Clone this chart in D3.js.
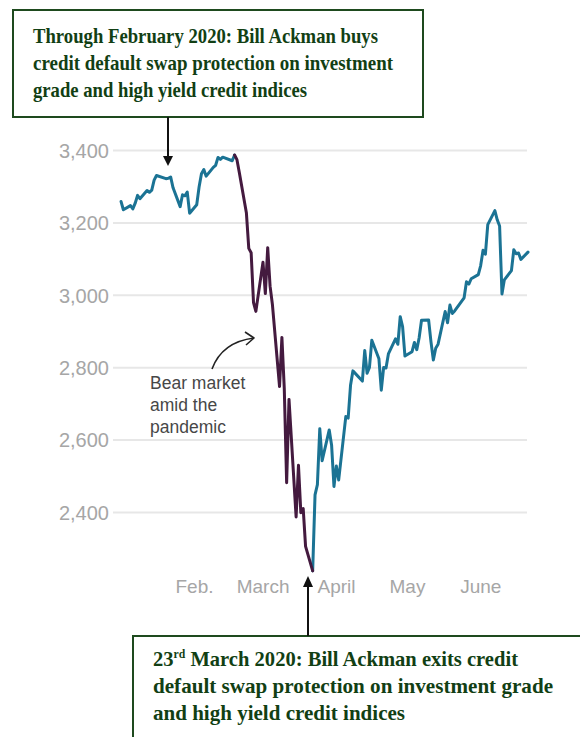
<!DOCTYPE html>
<html>
<head>
<meta charset="utf-8">
<script src="https://cdn.jsdelivr.net/npm/d3@7"></script>
<style>
  html, body { margin: 0; padding: 0; background: #fff; }
  svg { display: block; }
</style>
</head>
<body>
<svg id="chart" width="580" height="737"></svg>
<script>
// S&P 500 daily closes, January – June 2020
const tradingDays = [
  "2020-01-02","2020-01-03","2020-01-06","2020-01-07","2020-01-08","2020-01-09","2020-01-10",
  "2020-01-13","2020-01-14","2020-01-15","2020-01-16","2020-01-17","2020-01-21","2020-01-22",
  "2020-01-23","2020-01-24","2020-01-27","2020-01-28","2020-01-29","2020-01-30","2020-01-31",
  "2020-02-03","2020-02-04","2020-02-05","2020-02-06","2020-02-07","2020-02-10","2020-02-11",
  "2020-02-12","2020-02-13","2020-02-14","2020-02-18","2020-02-19","2020-02-20","2020-02-21",
  "2020-02-24","2020-02-25","2020-02-26","2020-02-27","2020-02-28",
  "2020-03-02","2020-03-03","2020-03-04","2020-03-05","2020-03-06","2020-03-09","2020-03-10",
  "2020-03-11","2020-03-12","2020-03-13","2020-03-16","2020-03-17","2020-03-18","2020-03-19",
  "2020-03-20","2020-03-23","2020-03-24","2020-03-25","2020-03-26","2020-03-27","2020-03-30",
  "2020-03-31",
  "2020-04-01","2020-04-02","2020-04-03","2020-04-06","2020-04-07","2020-04-08","2020-04-09",
  "2020-04-13","2020-04-14","2020-04-15","2020-04-16","2020-04-17","2020-04-20","2020-04-21",
  "2020-04-22","2020-04-23","2020-04-24","2020-04-27","2020-04-28","2020-04-29","2020-04-30",
  "2020-05-01","2020-05-04","2020-05-05","2020-05-06","2020-05-07","2020-05-08","2020-05-11",
  "2020-05-12","2020-05-13","2020-05-14","2020-05-15","2020-05-18","2020-05-19","2020-05-20",
  "2020-05-21","2020-05-22","2020-05-26","2020-05-27","2020-05-28","2020-05-29",
  "2020-06-01","2020-06-02","2020-06-03","2020-06-04","2020-06-05","2020-06-08","2020-06-09",
  "2020-06-10","2020-06-11","2020-06-12","2020-06-15","2020-06-16","2020-06-17","2020-06-18",
  "2020-06-19","2020-06-22"
];

const closes = [
  3257.85,3234.85,3246.28,3237.18,3253.05,3274.70,3265.35,
  3288.13,3283.15,3289.29,3316.81,3329.62,3320.79,3321.75,
  3325.54,3295.47,3243.63,3276.24,3273.40,3283.66,3225.52,
  3248.92,3297.59,3334.69,3345.78,3327.71,3352.09,3357.75,
  3379.45,3373.94,3380.16,3370.29,3386.15,3373.23,3337.75,
  3225.89,3128.21,3116.39,2978.76,2954.22,
  3090.23,3003.37,3130.12,3023.94,2972.37,2746.56,2882.23,
  2741.38,2480.64,2711.02,2386.13,2529.19,2398.10,2409.39,
  2304.92,2237.40,2447.33,2475.56,2630.07,2541.47,2626.65,
  2584.59,
  2470.50,2526.90,2488.65,2663.68,2659.41,2749.98,2789.82,
  2761.63,2846.06,2783.36,2799.55,2874.56,2823.16,2736.56,
  2799.31,2797.80,2836.74,2878.48,2863.39,2939.51,2912.43,
  2830.71,2842.74,2868.44,2848.42,2881.19,2929.80,2930.32,
  2870.12,2820.00,2852.50,2863.70,2953.91,2922.94,2971.61,
  2948.51,2955.45,2991.77,3036.13,3029.73,3044.31,
  3055.73,3080.82,3122.87,3112.35,3193.93,3232.39,3207.18,
  3190.14,3002.10,3041.31,3066.59,3124.74,3113.49,3115.34,
  3097.74,3117.86
];

// Bear-market stretch, drawn in a darker colour
const bearStart = "2020-02-19";
const bearEnd = "2020-03-23";

const yTickValues = [2400, 2600, 2800, 3000, 3200, 3400];
const monthTickDates = ["2020-02-01","2020-03-01","2020-04-01","2020-05-01","2020-06-01"];
const monthTickLabels = ["Feb.","March","April","May","June"];

const topNoteLines = [
  "Through February 2020: Bill Ackman buys",
  "credit default swap protection on investment",
  "grade and high yield credit indices"
];
const bottomNoteLines = [
  ["23", "rd", " March 2020: Bill Ackman exits credit"],
  "default swap protection on investment grade",
  "and high yield credit indices"
];
const bearLabelLines = ["Bear market", "amid the", "pandemic"];

const parse = d3.timeParse("%Y-%m-%d");
const series = tradingDays.map((d, i) => ({ date: parse(d), value: closes[i] }));

const svg = d3.select("#chart");
const teal = "#1b7394";
const plum = "#441a3f";
const green = "#123f14";
const greenBorder = "#1e4a1e";

const plot = { left: 113, right: 527 };

const x = d3.scaleTime()
  .domain([parse("2020-01-02"), parse("2020-06-22")])
  .range([121, 528]);

const y = d3.scaleLinear()
  .domain([2400, 3400])
  .range([512, 150]);

// Horizontal gridlines with value labels
const yAxis = d3.axisLeft(y)
  .tickValues(yTickValues)
  .tickFormat(d3.format(","))
  .tickSizeInner(-(plot.right - plot.left))
  .tickSizeOuter(0)
  .tickPadding(4);

const gy = svg.append("g")
  .attr("transform", `translate(${plot.left},0)`)
  .call(yAxis);
gy.select(".domain").remove();
gy.selectAll(".tick line").attr("stroke", "#e7e7e7").attr("stroke-width", 2);
gy.selectAll(".tick text")
  .attr("dy", "0.36em")
  .attr("fill", "#a6a6a6")
  .style("font-family", "'Liberation Sans', Arial, sans-serif")
  .style("font-size", "20px");

// Month labels
const xAxis = d3.axisBottom(x)
  .tickValues(monthTickDates.map(parse))
  .tickFormat((d, i) => monthTickLabels[i])
  .tickSize(0)
  .tickPadding(0);

const gx = svg.append("g")
  .attr("transform", "translate(2,579)")
  .call(xAxis);
gx.select(".domain").remove();
gx.selectAll(".tick text")
  .attr("dy", "0.71em")
  .attr("fill", "#a6a6a6")
  .style("font-family", "'Liberation Sans', Arial, sans-serif")
  .style("font-size", "19px");

// Price line, split into calm and bear-market stretches
const line = d3.line()
  .x(d => x(d.date))
  .y(d => y(d.value))
  .curve(d3.curveLinear);

const tBearStart = parse(bearStart), tBearEnd = parse(bearEnd);
const before = series.filter(d => d.date <= tBearStart);
const bear = series.filter(d => d.date >= tBearStart && d.date <= tBearEnd);
const after = series.filter(d => d.date >= tBearEnd);

[[before, teal], [after, teal], [bear, plum]].forEach(([seg, col]) => {
  svg.append("path")
    .datum(seg)
    .attr("d", line)
    .attr("fill", "none")
    .attr("stroke", col)
    .attr("stroke-width", 3)
    .attr("stroke-linejoin", "round")
    .attr("stroke-linecap", "round");
});

// "Bear market amid the pandemic" note with curved pointer
const bearText = svg.append("text")
  .attr("fill", "#474747")
  .style("font-family", "'Liberation Sans', Arial, sans-serif")
  .style("font-size", "17.5px");
bearLabelLines.forEach((t, i) => {
  bearText.append("tspan").attr("x", 150).attr("y", 389 + i * 22).text(t);
});

svg.append("path")
  .attr("d", "M212,369 Q222,342 254,338")
  .attr("fill", "none")
  .attr("stroke", "#222")
  .attr("stroke-width", 1.6);
svg.append("path")
  .attr("d", "M245,332 L254,338 L246,345")
  .attr("fill", "none")
  .attr("stroke", "#222")
  .attr("stroke-width", 1.6)
  .attr("stroke-linejoin", "round");

// Top callout box
svg.append("rect")
  .attr("x", 13).attr("y", 10)
  .attr("width", 410).attr("height", 107)
  .attr("fill", "#fff")
  .attr("stroke", greenBorder)
  .attr("stroke-width", 2);

const topWidths = [345, 360, 274];
topNoteLines.forEach((t, i) => {
  svg.append("text")
    .attr("x", 33).attr("y", 43 + i * 27)
    .attr("fill", green)
    .attr("textLength", topWidths[i])
    .attr("lengthAdjust", "spacingAndGlyphs")
    .style("font-family", "'Liberation Serif', 'Times New Roman', serif")
    .style("font-weight", "bold")
    .style("font-size", "21px")
    .text(t);
});

// Arrow from the top box down to the February plateau
svg.append("line")
  .attr("x1", 168).attr("y1", 117)
  .attr("x2", 168).attr("y2", 158)
  .attr("stroke", "#111").attr("stroke-width", 2);
svg.append("path")
  .attr("d", "M163,156 L173,156 L168,166 Z")
  .attr("fill", "#111");

// Bottom callout box (runs off the page edge)
svg.append("rect")
  .attr("x", 133).attr("y", 636)
  .attr("width", 500).attr("height", 200)
  .attr("fill", "#fff")
  .attr("stroke", greenBorder)
  .attr("stroke-width", 2);

// Arrow from the bottom box up to the March low
svg.append("line")
  .attr("x1", 308).attr("y1", 636)
  .attr("x2", 308).attr("y2", 584)
  .attr("stroke", "#111").attr("stroke-width", 2);
svg.append("path")
  .attr("d", "M303,587 L313,587 L308,576 Z")
  .attr("fill", "#111");

const bottomWidths = [365, 400, 252];
bottomNoteLines.forEach((t, i) => {
  const txt = svg.append("text")
    .attr("x", 153).attr("y", 666 + i * 27)
    .attr("fill", green)
    .attr("textLength", bottomWidths[i])
    .attr("lengthAdjust", "spacingAndGlyphs")
    .style("font-family", "'Liberation Serif', 'Times New Roman', serif")
    .style("font-weight", "bold")
    .style("font-size", "21px");
  if (Array.isArray(t)) {
    txt.append("tspan").text(t[0]);
    txt.append("tspan").attr("dy", -8).style("font-size", "12px").text(t[1]);
    txt.append("tspan").attr("dy", 8).text(t[2]);
  } else {
    txt.text(t);
  }
});
</script>
</body>
</html>
